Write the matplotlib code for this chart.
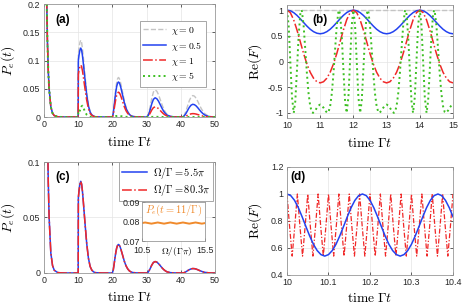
import matplotlib
matplotlib.use('Agg')
import matplotlib.pyplot as plt
import numpy as np
from matplotlib.ticker import FormatStrFormatter

plt.rcParams['font.family'] = ['Liberation Sans', 'DejaVu Sans']
plt.rcParams['mathtext.fontset'] = 'cm'
plt.rcParams['axes.unicode_minus'] = False

# ---------------- data ----------------
# time grid for P_e(t), panels (a) and (c)
t_pe = [0, 0.25, 0.5, 0.75, 1, 1.25, 1.5, 2, 2.5, 3, 4, 5, 6, 8, 9.99,
        10, 10.05, 10.25, 10.5, 10.75, 11, 11.25, 11.5, 11.75, 12, 12.5, 13, 13.5, 14, 14.5, 15, 17, 19.5,
        20, 20.25, 20.5, 20.75, 21, 21.25, 21.5, 21.75, 22, 22.25, 22.5, 23, 23.5, 24, 24.5, 25, 25.5, 26, 27, 29.5,
        30, 30.5, 31, 31.5, 32, 32.5, 33, 33.5, 34, 34.5, 35, 35.5, 36, 37, 38, 39.5,
        40, 40.5, 41, 41.5, 42, 42.5, 43, 43.5, 44, 44.5, 45, 45.5, 46, 46.5, 47, 48, 49, 50]

pe_chi0 = [1.0, 0.61, 0.37, 0.22, 0.135, 0.082, 0.05, 0.018, 0.0067, 0.0025, 0.0004, 0.0001, 0, 0, 0,
           0, 0.1115, 0.1224, 0.1319, 0.136, 0.1319, 0.121, 0.1061, 0.0898, 0.0734, 0.0435, 0.0218, 0.0095, 0.0041, 0.0016, 0.0005, 0, 0,
           0, 0.007, 0.021, 0.0364, 0.0504, 0.0609, 0.0672, 0.07, 0.0686, 0.0644, 0.0581, 0.0434, 0.0287, 0.0175, 0.0098, 0.0049, 0.0025, 0.0011, 0.0002, 0,
           0, 0.0038, 0.0168, 0.0326, 0.0442, 0.048, 0.0456, 0.0394, 0.0307, 0.0221, 0.0144, 0.0086, 0.0048, 0.0014, 0.0004, 0,
           0, 0.0004, 0.003, 0.0103, 0.0198, 0.0289, 0.0353, 0.038, 0.0369, 0.0331, 0.0274, 0.0209, 0.0148, 0.0099, 0.0061, 0.0019, 0.0005, 0.0001]

pe_chi05 = [1.0, 0.61, 0.37, 0.22, 0.135, 0.082, 0.05, 0.018, 0.0067, 0.0025, 0.0004, 0.0001, 0, 0, 0,
            0, 0.1, 0.1098, 0.1183, 0.122, 0.1183, 0.1086, 0.0952, 0.0805, 0.0659, 0.039, 0.0195, 0.0085, 0.0037, 0.0015, 0.0005, 0, 0,
            0, 0.0062, 0.0186, 0.0322, 0.0446, 0.0539, 0.0595, 0.062, 0.0608, 0.057, 0.0515, 0.0384, 0.0254, 0.0155, 0.0087, 0.0043, 0.0022, 0.001, 0.0002, 0,
            0, 0.0027, 0.0119, 0.0231, 0.0313, 0.034, 0.0323, 0.0279, 0.0218, 0.0156, 0.0102, 0.0061, 0.0034, 0.001, 0.0003, 0,
            0, 0.0002, 0.0018, 0.0061, 0.0117, 0.0171, 0.0209, 0.0225, 0.0218, 0.0196, 0.0162, 0.0124, 0.0088, 0.0059, 0.0036, 0.0011, 0.0003, 0.0001]

pe_chi1 = [1.0, 0.61, 0.37, 0.22, 0.135, 0.082, 0.05, 0.018, 0.0067, 0.0025, 0.0004, 0.0001, 0, 0, 0,
           0, 0.0754, 0.0828, 0.0892, 0.092, 0.0892, 0.0819, 0.0718, 0.0607, 0.0497, 0.0294, 0.0147, 0.0064, 0.0028, 0.0011, 0.0004, 0, 0,
           0, 0.0044, 0.0132, 0.0229, 0.0317, 0.0383, 0.0422, 0.044, 0.0431, 0.0405, 0.0365, 0.0273, 0.018, 0.011, 0.0062, 0.0031, 0.0015, 0.0007, 0.0001, 0,
           0, 0.0014, 0.0063, 0.0122, 0.0166, 0.018, 0.0171, 0.0148, 0.0115, 0.0083, 0.0054, 0.0032, 0.0018, 0.0005, 0.0001, 0,
           0, 0.0001, 0.0005, 0.0016, 0.0031, 0.0046, 0.0056, 0.006, 0.0058, 0.0052, 0.0043, 0.0033, 0.0023, 0.0016, 0.001, 0.0003, 0.0001, 0]

pe_chi5 = [1.0, 0.61, 0.37, 0.22, 0.135, 0.082, 0.05, 0.018, 0.0067, 0.0025, 0.0004, 0.0001, 0, 0, 0,
           0, 0.011, 0.013, 0.011, 0.015, 0.019, 0.02, 0.017, 0.013, 0.009, 0.004, 0.0015, 0.0005, 0.0002, 0, 0, 0, 0,
           0, 0.0002, 0.0006, 0.001, 0.0015, 0.0018, 0.002, 0.002, 0.0019, 0.0017, 0.0015, 0.001, 0.0006, 0.0003, 0.0002, 0.0001, 0, 0, 0, 0,
           0, 0, 0.0001, 0.0002, 0.0003, 0.0003, 0.0003, 0.0002, 0.0002, 0.0001, 0.0001, 0, 0, 0, 0, 0,
           0, 0, 0, 0, 0, 0, 0, 0, 0, 0, 0, 0, 0, 0, 0, 0, 0, 0]

# panel (c): the two Rabi frequencies give curves that lie on top of each other
pe_om55 = [1.0, 0.61, 0.37, 0.22, 0.135, 0.082, 0.05, 0.018, 0.0067, 0.0025, 0.0004, 0.0001, 0, 0, 0,
           0, 0.0677, 0.0743, 0.0801, 0.0826, 0.0801, 0.0735, 0.0644, 0.0545, 0.0446, 0.0264, 0.0132, 0.0058, 0.0025, 0.001, 0.0003, 0, 0,
           0, 0.0026, 0.0077, 0.0134, 0.0185, 0.0224, 0.0247, 0.0257, 0.0252, 0.0236, 0.0213, 0.0159, 0.0105, 0.0064, 0.0036, 0.0018, 0.0009, 0.0004, 0.0001, 0,
           0, 0.0008, 0.0036, 0.007, 0.0095, 0.0103, 0.0098, 0.0084, 0.0066, 0.0047, 0.0031, 0.0019, 0.001, 0.0003, 0.0001, 0,
           0, 0, 0.0003, 0.0011, 0.0021, 0.003, 0.0037, 0.004, 0.0039, 0.0035, 0.0029, 0.0022, 0.0016, 0.001, 0.0006, 0.0002, 0, 0]
pe_om803 = list(pe_om55)

# inset of (c): P_e at t = 11/Gamma versus Omega/(Gamma pi)
om_inset = [10.5, 10.75, 11, 11.25, 11.5, 11.75, 12, 12.25, 12.5, 12.75, 13,
            13.25, 13.5, 13.75, 14, 14.25, 14.5, 14.75, 15, 15.25, 15.5]
pe_inset = [0.0792, 0.0795, 0.0792, 0.0789, 0.0792, 0.0795, 0.0792, 0.0789, 0.0792, 0.0795, 0.0792,
            0.0789, 0.0792, 0.0795, 0.0792, 0.0789, 0.0792, 0.0795, 0.0792, 0.0789, 0.0792]

# panel (b): Re(F), t from 10 to 15 in steps of 0.1
t_b = np.linspace(10, 15, 51)
ref_chi05 = [1, .988, .953, .899, .832, .760, .690, .628, .581, .551, .540,
             .551, .581, .628, .690, .760, .832, .899, .953, .988, 1,
             .988, .953, .899, .832, .760, .690, .628, .581, .551, .540,
             .551, .581, .628, .690, .760, .832, .899, .953, .988, 1,
             .988, .953, .899, .832, .760, .690, .628, .581, .551, .540]
ref_chi1 = [1, .952, .815, .615, .386, .156, -.047, -.210, -.325, -.394, -.416,
            -.394, -.325, -.210, -.047, .156, .386, .615, .815, .952, 1,
            .952, .815, .615, .386, .156, -.047, -.210, -.325, -.394, -.416,
            -.394, -.325, -.210, -.047, .156, .386, .615, .815, .952, 1,
            .952, .815, .615, .386, .156, -.047, -.210, -.325, -.394, -.416]
t_b0 = [10, 15]
ref_chi0 = [1, 1]

t_b5 = [10, 10.05, 10.1, 10.15, 10.2035, 10.25, 10.3, 10.35, 10.4, 10.4324, 10.45, 10.5, 10.55, 10.6, 10.65, 10.7, 10.75, 10.7832, 10.85, 10.9, 10.95,
        11, 11.05, 11.1, 11.15, 11.2168, 11.25, 11.3, 11.35, 11.4, 11.45, 11.5, 11.55, 11.5676, 11.6, 11.65, 11.7, 11.75, 11.7965, 11.85, 11.9, 11.95,
        12, 12.05, 12.1, 12.15, 12.2035, 12.25, 12.3, 12.35, 12.4, 12.4324, 12.45, 12.5, 12.55, 12.6, 12.65, 12.7, 12.75, 12.7832, 12.85, 12.9, 12.95,
        13, 13.05, 13.1, 13.15, 13.2168, 13.25, 13.3, 13.35, 13.4, 13.45, 13.5, 13.55, 13.5676, 13.6, 13.65, 13.7, 13.75, 13.7965, 13.85, 13.9, 13.95,
        14, 14.05, 14.1, 14.15, 14.2035, 14.25, 14.3, 14.35, 14.4, 14.4324, 14.45, 14.5, 14.55, 14.6, 14.65, 14.7, 14.75, 14.7832, 14.85, 14.9, 14.95, 15]
ref_chi5 = [1, .707, .007, -.691, -1, -.774, -.171, .491, .919, 1, .978, .705, .247, -.234, -.622, -.871, -.983, -1, -.956, -.900, -.856,
            -.839, -.856, -.900, -.956, -1, -.983, -.871, -.622, -.234, .247, .705, .978, 1, .919, .491, -.171, -.774, -1, -.691, .007, .707,
            1, .707, .007, -.691, -1, -.774, -.171, .491, .919, 1, .978, .705, .247, -.234, -.622, -.871, -.983, -1, -.956, -.900, -.856,
            -.839, -.856, -.900, -.956, -1, -.983, -.871, -.622, -.234, .247, .705, .978, 1, .919, .491, -.171, -.774, -1, -.691, .007, .707,
            1, .707, .007, -.691, -1, -.774, -.171, .491, .919, 1, .978, .705, .247, -.234, -.622, -.871, -.983, -1, -.956, -.900, -.856, -.839]

# panel (d): Re(F), t from 10 to 10.4
t_d_slow = np.linspace(10, 10.4, 45)
ref_om55 = [1, .988, .953, .899, .832, .760, .690, .628, .581, .551, .540,
            .551, .581, .628, .690, .760, .832, .899, .953, .988, 1,
            .988, .953, .899, .832, .760, .690, .628, .581, .551, .540,
            .551, .581, .628, .690, .760, .832, .899, .953, .988, 1,
            .988, .953, .899, .832]
t_d_fast = np.linspace(10, 10.4, 65)
ref_om803 = [1, .76, .54, .76, 1, .76, .54, .76, 1, .76, .54, .76, 1, .76, .54, .76,
             1, .76, .54, .76, 1, .76, .54, .76, 1, .76, .54, .76, 1, .76, .54, .76,
             1, .76, .54, .76, 1, .76, .54, .76, 1, .76, .54, .76, 1, .76, .54, .76,
             1, .76, .54, .76, 1, .76, .54, .76, 1, .76, .54, .76, 1, .76, .54, .76, 1]

# ---------------- style ----------------
c_gray = '#c4c4c4'
c_blue = '#2342f0'
c_red = '#f02828'
c_green = '#3cbf22'
c_orange = '#f08a2c'
tick_fs = 6.4
lab_fs = 9.8


def style(ax, ylab_x, xlab_y):
    ax.grid(True, color='#e4e4e4', lw=0.5)
    ax.set_axisbelow(True)
    ax.tick_params(direction='in', length=2.5, width=0.5, labelsize=tick_fs,
                   colors='0.15', pad=2.5, top=True, right=True)
    for s in ax.spines.values():
        s.set_color('0.6')
        s.set_linewidth(0.6)
    ax.yaxis.set_label_coords(ylab_x, 0.5)
    ax.xaxis.set_label_coords(0.5, xlab_y)


fig = plt.figure(figsize=(4.64, 3.04), dpi=100)
ax_a = fig.add_axes([0.0948, 0.6151, 0.3685, 0.3717])
ax_b = fig.add_axes([0.6185, 0.6118, 0.3578, 0.3717])
ax_c = fig.add_axes([0.0948, 0.1020, 0.3685, 0.3651])
ax_d = fig.add_axes([0.6185, 0.0954, 0.3578, 0.3553])

# (a)
ax_a.plot(t_pe, pe_chi0, '--', color=c_gray, lw=1.0, label=r'$\chi=0$')
ax_a.plot(t_pe, pe_chi05, '-', color=c_blue, lw=1.1, label=r'$\chi=0.5$')
ax_a.plot(t_pe, pe_chi1, '-.', color=c_red, lw=1.1, label=r'$\chi=1$')
ax_a.plot(t_pe, pe_chi5, ':', color=c_green, lw=1.4, label=r'$\chi=5$')
ax_a.set_xlim(0, 50)
ax_a.set_ylim(0, 0.2)
ax_a.set_xticks([0, 10, 20, 30, 40, 50])
ax_a.set_yticks([0, 0.05, 0.1, 0.15, 0.2])
ax_a.yaxis.set_major_formatter(FormatStrFormatter('%g'))
ax_a.set_xlabel(r'$\mathrm{time}\ \Gamma t$', fontsize=lab_fs)
ax_a.set_ylabel(r'$P_e(t)$', fontsize=lab_fs)
leg = ax_a.legend(loc='upper right', bbox_to_anchor=(0.975, 0.89), fontsize=7,
                  handlelength=2.3, fancybox=False, framealpha=1, edgecolor='0.6',
                  borderpad=0.35, labelspacing=0.3, handletextpad=0.6)
leg.get_frame().set_linewidth(0.6)
ax_a.text(0.064, 0.86, '(a)', transform=ax_a.transAxes, fontsize=8.5,
          fontweight='bold', va='center')
style(ax_a, -0.16, -0.16)

# (b)
ax_b.plot(t_b0, ref_chi0, '--', color=c_gray, lw=1.0)
ax_b.plot(t_b, ref_chi05, '-', color=c_blue, lw=1.1)
ax_b.plot(t_b, ref_chi1, '-.', color=c_red, lw=1.1)
ax_b.plot(t_b5, ref_chi5, ':', color=c_green, lw=1.4)
ax_b.set_xlim(10, 15)
ax_b.set_ylim(-1.1, 1.1)
ax_b.set_yticks([-1, -0.5, 0, 0.5, 1])
ax_b.yaxis.set_major_formatter(FormatStrFormatter('%g'))
ax_b.set_xlabel(r'$\mathrm{time}\ \Gamma t$', fontsize=lab_fs)
ax_b.set_ylabel(r'$\mathrm{Re}(F)$', fontsize=lab_fs)
ax_b.text(0.15, 0.867, '(b)', transform=ax_b.transAxes, fontsize=8.5,
          fontweight='bold', va='center')
style(ax_b, -0.14, -0.16)

# (c)
ax_c.plot(t_pe, pe_om55, '-', color=c_blue, lw=1.1, label=r'$\Omega/\Gamma=5.5\pi$')
ax_c.plot(t_pe, pe_om803, '-.', color=c_red, lw=1.1, label=r'$\Omega/\Gamma=80.3\pi$')
ax_c.set_xlim(0, 50)
ax_c.set_ylim(0, 0.1)
ax_c.set_xticks([0, 10, 20, 30, 40, 50])
ax_c.set_yticks([0, 0.05, 0.1])
ax_c.yaxis.set_major_formatter(FormatStrFormatter('%g'))
ax_c.set_xlabel(r'$\mathrm{time}\ \Gamma t$', fontsize=lab_fs)
ax_c.set_ylabel(r'$P_e(t)$', fontsize=lab_fs)
leg = ax_c.legend(loc='upper right', bbox_to_anchor=(0.99, 1.0), fontsize=7.5,
                  handlelength=2.4, fancybox=False, framealpha=1, edgecolor='0.6',
                  borderpad=0.25, labelspacing=0.15, handletextpad=0.6, borderaxespad=0)
leg.get_frame().set_linewidth(0.6)
ax_c.text(0.064, 0.865, '(c)', transform=ax_c.transAxes, fontsize=8.5,
          fontweight='bold', va='center')
style(ax_c, -0.16, -0.15)

ax_in = fig.add_axes([0.306, 0.2072, 0.1358, 0.1283])
ax_in.plot(om_inset, pe_inset, '-', color=c_orange, lw=1.4)
ax_in.set_xlim(10.5, 15.5)
ax_in.set_ylim(0.07, 0.09)
ax_in.set_xticks([10.5, 15.5])
ax_in.set_yticks([0.07, 0.08, 0.09])
ax_in.tick_params(direction='in', length=2, width=0.5, labelsize=tick_fs,
                  colors='0.15', pad=1.5)
ax_in.tick_params(axis='x', pad=3.5)
for s in ax_in.spines.values():
    s.set_color('0.6')
    s.set_linewidth(0.6)
ax_in.set_xlabel(r'$\Omega/(\Gamma\pi)$', fontsize=6.8)
ax_in.xaxis.set_label_coords(0.55, -0.1)
ax_in.text(0.5, 0.78, r'$P_e(t=11/\Gamma)$', transform=ax_in.transAxes,
           fontsize=7.5, color=c_orange, ha='center', va='center')

# (d)
ax_d.plot(t_d_fast, ref_om803, color=c_red, lw=0.9, dashes=(4, 1.5, 1, 1.5))
ax_d.plot(t_d_slow, ref_om55, '-', color=c_blue, lw=1.1)
ax_d.set_xlim(10, 10.4)
ax_d.set_ylim(0.4, 1.2)
ax_d.set_xticks([10, 10.1, 10.2, 10.3, 10.4])
ax_d.set_yticks([0.4, 0.6, 0.8, 1.0, 1.2])
ax_d.xaxis.set_major_formatter(FormatStrFormatter('%g'))
ax_d.yaxis.set_major_formatter(FormatStrFormatter('%g'))
ax_d.set_xlabel(r'$\mathrm{time}\ \Gamma t$', fontsize=lab_fs)
ax_d.set_ylabel(r'$\mathrm{Re}(F)$', fontsize=lab_fs)
ax_d.text(0.018, 0.907, '(d)', transform=ax_d.transAxes, fontsize=8.5,
          fontweight='bold', va='center')
style(ax_d, -0.14, -0.15)

fig.savefig('out.png', dpi=100)
